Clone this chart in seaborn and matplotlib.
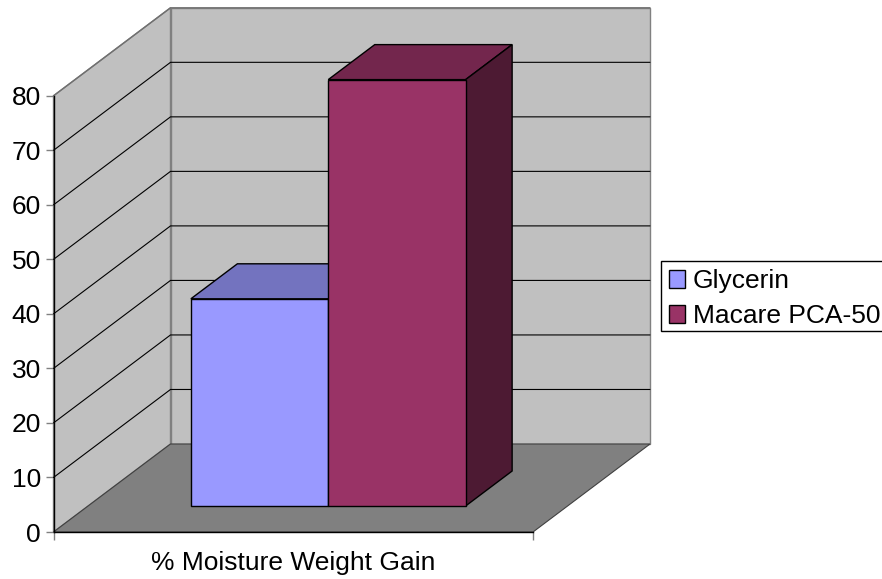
import pandas as pd
import seaborn as sns
import matplotlib
matplotlib.use('Agg')
import matplotlib.pyplot as plt
from matplotlib.patches import Polygon
from matplotlib.colors import to_rgb

# valores
categories = ['% Moisture Weight Gain']
series = ['Glycerin', 'Macare PCA-50']
values = [38.0, 78.2]
colors = ['#9999FF', '#993366']
yticks = [0, 10, 20, 30, 40, 50, 60, 70, 80]

sns.set_style('white')
plt.rcParams['font.family'] = ['Liberation Sans', 'DejaVu Sans']

W, H = 882, 579
# area do plano frontal em pixels
left, right, bottom, top = 53.5, 533, 532, 95.8
px_x = right - left
px_y = (bottom - top) / 80

# profundidade do "3D" em unidades dos eixos
wall_dx, wall_dy = 117 / px_x, 88 / px_y
off_dx, off_dy = 35 / px_x, 26 / px_y
bar_dx, bar_dy = 46.5 / px_x, 35 / px_y

fig = plt.figure(figsize=(W / 100, H / 100), dpi=100)
ax = fig.add_axes([left / W, 1 - bottom / H, px_x / W, (bottom - top) / H])

df = pd.DataFrame({'cat': categories * len(series), 'serie': series, 'valor': values})
sns.barplot(data=df, x='cat', y='valor', hue='serie', palette=colors, saturation=1,
            width=0.573, gap=0, edgecolor='black', linewidth=1, ax=ax, zorder=5)

ax.set_xlim(-0.5, 0.5)
ax.set_ylim(0, 80)
ax.patch.set_visible(False)


def poly(pts, fc, ec, z, lw=1.0):
    ax.add_patch(Polygon(pts, closed=True, facecolor=fc, edgecolor=ec, linewidth=lw,
                         zorder=z, clip_on=False, joinstyle='miter'))


x0, x1 = ax.get_xlim()
ymax = yticks[-1]
# paredes e chao
poly([(x0, 0), (x0 + wall_dx, wall_dy), (x0 + wall_dx, ymax + wall_dy), (x0, ymax)], '#C0C0C0', '#808080', 1)
poly([(x0 + wall_dx, wall_dy), (x1 + wall_dx, wall_dy), (x1 + wall_dx, ymax + wall_dy), (x0 + wall_dx, ymax + wall_dy)],
     '#C0C0C0', '#808080', 1)
poly([(x0, 0), (x1, 0), (x1 + wall_dx, wall_dy), (x0 + wall_dx, wall_dy)], '#808080', '#404040', 1.5, lw=0.8)

# linhas de grade nas duas paredes
for v in yticks[1:-1]:
    ax.plot([x0, x0 + wall_dx, x1 + wall_dx], [v, v + wall_dy, v + wall_dy], color='black', lw=0.8,
            zorder=2, clip_on=False, solid_joinstyle='miter')
ax.plot([x0, x0 + wall_dx, x1 + wall_dx], [ymax, ymax + wall_dy, ymax + wall_dy], color='#707070', lw=1,
        zorder=2, clip_on=False)

# barras: desloca a face frontal e desenha topo e lateral
for i, cont in enumerate(ax.containers):
    for bar in cont:
        bar.set_x(bar.get_x() + off_dx)
        bar.set_y(off_dy)
        bar.set_clip_on(False)
        bar.set_zorder(5 + 2 * i)
        bx0, bx1 = bar.get_x(), bar.get_x() + bar.get_width()
        by0, by1 = off_dy, off_dy + bar.get_height()
        rgb = to_rgb(colors[i])
        poly([(bx0, by1), (bx1, by1), (bx1 + bar_dx, by1 + bar_dy), (bx0 + bar_dx, by1 + bar_dy)],
             tuple(c * 0.75 for c in rgb), 'black', 4 + 2 * i)
        poly([(bx1, by0), (bx1 + bar_dx, by0 + bar_dy), (bx1 + bar_dx, by1 + bar_dy), (bx1, by1)],
             tuple(c * 0.5 for c in rgb), 'black', 4 + 2 * i)

for s in ['top', 'right']:
    ax.spines[s].set_visible(False)
for s in ['left', 'bottom']:
    ax.spines[s].set_color('black')
    ax.spines[s].set_linewidth(1)
    ax.spines[s].set_zorder(3)

ax.set_yticks(yticks)
ax.set_xticks([x0, x1], ['', ''])
ax.set_xticks([0], categories, minor=True)
ax.tick_params(axis='y', which='major', left=True, length=6, width=1, color='#808080', labelsize=19, pad=3, labelcolor='black')
ax.tick_params(axis='x', which='major', bottom=True, length=6, width=1, color='#808080')
ax.tick_params(axis='x', which='minor', bottom=False, length=0, labelsize=19, pad=14, labelcolor='black')
ax.set_xlabel('')
ax.set_ylabel('')

handles, labels = ax.get_legend_handles_labels()
ax.get_legend().remove()
leg = fig.legend(handles, labels, loc='upper left', bbox_to_anchor=(661 / W, 1 - 260.5 / H),
                 bbox_transform=fig.transFigure, fontsize=19, fancybox=False, framealpha=1,
                 edgecolor='black', borderpad=0.22, borderaxespad=0, handlelength=0.63, handleheight=0.63,
                 handletextpad=0.27, labelspacing=0.42, labelcolor='black')
leg.get_frame().set_linewidth(1)
# ajuste fino: desce e empurra o conteudo da legenda dentro da caixa
for t in leg.get_texts():
    t.set_position((2, -3))
for h in leg.legend_handles:
    h.set_x(h.get_x() + 1.44)
    h.set_y(h.get_y() - 2.16)

fig.savefig('out.png', dpi=100, facecolor='white')
